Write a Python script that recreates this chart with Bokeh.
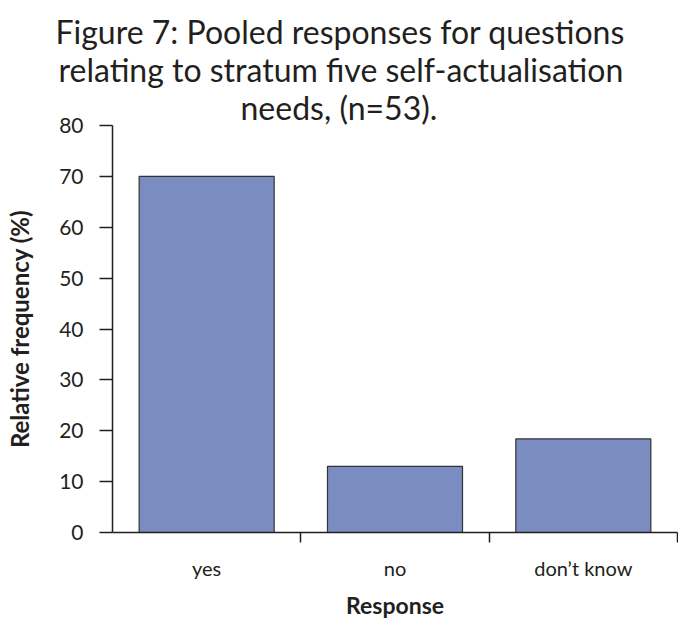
from bokeh.plotting import figure
from bokeh.models import (ColumnDataSource, Range1d, FixedTicker, LinearAxis, Title)
from bokeh.embed import file_html
from bokeh.resources import INLINE

# ---- data ----
categories = ["yes", "no", "don\u2019t know"]
relative_frequency = [70.0, 13.0, 18.4]
y_ticks = [0, 10, 20, 30, 40, 50, 60, 70, 80]
title_lines = [
    "Figure 7: Pooled responses for questions",
    "relating to stratum five self-actualisation",
    "needs, (n=53).",
]
x_label = "Response"
y_label = "Relative frequency (%)"

FONT = "Lato"
INK = "#231f20"

positions = [i + 0.5 for i in range(len(categories))]
source = ColumnDataSource(dict(x=positions, top=relative_frequency, cat=categories))

p = figure(width=678, height=621, output_backend="svg", toolbar_location=None,
           x_range=Range1d(0, len(categories)), y_range=Range1d(0, 80),
           x_axis_type=None, y_axis_type=None,
           min_border_left=112, min_border_right=1, min_border_top=125,
           min_border_bottom=89)
p.outline_line_color = None
p.xgrid.visible = False
p.ygrid.visible = False
p.background_fill_color = "white"
p.border_fill_color = "white"

p.vbar(x="x", top="top", width=0.717, source=source,
       fill_color="#7b8cc0", line_color="#333333", line_width=1.2)

# y axis
yaxis = LinearAxis(ticker=FixedTicker(ticks=y_ticks, minor_ticks=[]))
yaxis.axis_label = y_label
yaxis.axis_label_text_font = FONT
yaxis.axis_label_text_font_style = "bold"
yaxis.axis_label_text_font_size = "24px"
yaxis.axis_label_text_color = INK
yaxis.axis_label_standoff = 22
yaxis.major_label_text_font = FONT
yaxis.major_label_text_font_size = "21px"
yaxis.major_label_text_color = INK
yaxis.major_label_standoff = 16
yaxis.major_tick_out = 13
yaxis.major_tick_in = 0
yaxis.major_tick_line_color = INK
yaxis.major_tick_line_width = 1.5
yaxis.axis_line_color = INK
yaxis.axis_line_width = 1.5
p.add_layout(yaxis, "left")

# x axis: labels at category centres, ticks at category boundaries
xaxis = LinearAxis(ticker=FixedTicker(ticks=positions,
                                      minor_ticks=[i + 1 for i in range(len(categories))]))
xaxis.major_label_overrides = {pos: c for pos, c in zip(positions, categories)}
xaxis.axis_label = x_label
xaxis.axis_label_text_font = FONT
xaxis.axis_label_text_font_style = "bold"
xaxis.axis_label_text_font_size = "23px"
xaxis.axis_label_text_color = INK
xaxis.axis_label_standoff = 8
xaxis.major_label_text_font = FONT
xaxis.major_label_text_font_size = "20px"
xaxis.major_label_text_color = INK
xaxis.major_label_standoff = 13
xaxis.major_tick_out = 10
xaxis.major_tick_in = 0
xaxis.major_tick_line_color = None
xaxis.minor_tick_out = 10
xaxis.minor_tick_in = 0
xaxis.minor_tick_line_color = INK
xaxis.minor_tick_line_width = 1.5
xaxis.axis_line_color = INK
xaxis.axis_line_width = 1.5
p.add_layout(xaxis, "below")

# title lines (added nearest-first), shifted so that they centre on the page
offsets = [-57, -54, 128]
for line, off in reversed(list(zip(title_lines, offsets))):
    p.add_layout(Title(text=line, align="left", offset=off, standoff=-3,
                       text_font=FONT, text_font_size="32px",
                       text_font_style="normal", text_color=INK), "above")

open("out.html", "w").write(file_html(p, INLINE))
